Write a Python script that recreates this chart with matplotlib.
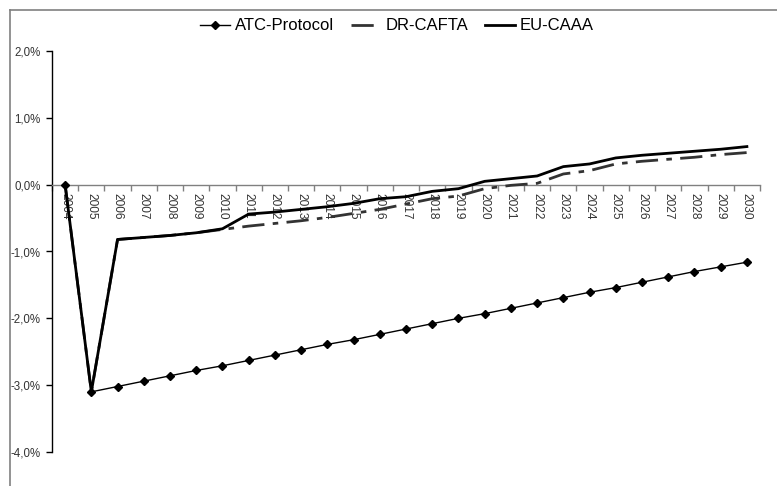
import matplotlib
matplotlib.use("Agg")
import matplotlib.pyplot as plt
from matplotlib.lines import Line2D
from matplotlib.ticker import FuncFormatter, FixedLocator
import numpy as np

plt.rcParams['font.family'] = ['Liberation Sans', 'DejaVu Sans']

years = [str(y) for y in range(2004, 2031)]

atc_protocol = [0.00, -3.10, -3.02, -2.94, -2.86, -2.78, -2.71, -2.63, -2.55, -2.47,
                -2.39, -2.32, -2.24, -2.16, -2.08, -2.00, -1.93, -1.85, -1.77, -1.69,
                -1.61, -1.54, -1.46, -1.38, -1.30, -1.23, -1.16]

dr_cafta = [0.00, -3.10, -0.82, -0.79, -0.76, -0.72, -0.67, -0.62, -0.58, -0.54,
            -0.49, -0.43, -0.37, -0.29, -0.21, -0.17, -0.06, -0.01, 0.02, 0.16,
            0.21, 0.31, 0.35, 0.38, 0.41, 0.45, 0.48]

eu_caaa = [0.00, -3.10, -0.82, -0.79, -0.76, -0.72, -0.66, -0.44, -0.41, -0.37,
           -0.33, -0.28, -0.21, -0.18, -0.10, -0.06, 0.05, 0.09, 0.13, 0.27,
           0.31, 0.40, 0.44, 0.47, 0.50, 0.53, 0.57]

ytick_vals = [2.0, 1.0, 0.0, -1.0, -2.0, -3.0, -4.0]

W, H = 777, 486
fig = plt.figure(figsize=(W / 100, H / 100), dpi=100)
ax = fig.add_axes([52 / W, (H - 452) / H, (760 - 52) / W, (452 - 51) / H])

x = np.arange(len(years))

ax.plot(x, dr_cafta, color='#333333', lw=2.0, dashes=(8, 3, 2, 3),
        label='DR-CAFTA', zorder=3, solid_capstyle='butt')
ax.plot(x, atc_protocol, color='black', lw=1.0, marker='D', markersize=3.8,
        label='ATC-Protocol', zorder=4)
ax.plot(x, eu_caaa, color='black', lw=2.0, label='EU-CAAA', zorder=5)

ax.set_xlim(-0.5, len(years) - 0.5)
ax.set_ylim(-4.0, 2.0)

# spines
for s in ['top', 'right']:
    ax.spines[s].set_visible(False)
ax.spines['bottom'].set_position(('data', 0))
ax.spines['bottom'].set_color('#808080')
ax.spines['bottom'].set_linewidth(1.0)
ax.spines['left'].set_color('black')
ax.spines['left'].set_linewidth(1.0)

# y ticks
ax.set_yticks(ytick_vals)
ax.yaxis.set_major_formatter(FuncFormatter(lambda v, p: f"{v:.1f}%".replace('.', ',')))
ax.tick_params(axis='y', direction='out', length=4, width=1, labelsize=8.3,
               colors='black', pad=4)
for lab in ax.get_yticklabels():
    lab.set_color('#333333')

# x ticks: labels at category centers, tick marks at boundaries
ax.set_xticks(x)
ax.set_xticklabels(years, rotation=-90, fontsize=8.6, color='#333333')
ax.tick_params(axis='x', which='major', length=0, pad=6)
ax.xaxis.set_minor_locator(FixedLocator(np.arange(-0.5, len(years), 1.0)))
ax.tick_params(axis='x', which='minor', direction='out', length=4, width=1,
               color='#808080')
for lab in ax.get_xticklabels():
    lab.set_va('top')
    lab.set_ha('center')

# legend
handles, labels = ax.get_legend_handles_labels()
order = [labels.index('ATC-Protocol'), labels.index('DR-CAFTA'), labels.index('EU-CAAA')]
leg = fig.legend([handles[i] for i in order], [labels[i] for i in order],
                 loc='center', bbox_to_anchor=(397 / W, 1 - 26 / H), ncol=3,
                 frameon=False, fontsize=12, handlelength=1.8, handletextpad=0.3,
                 columnspacing=1.0, borderpad=0)

# outer grey frame (partially cropped)
fig.add_artist(Line2D([10 / W, 1.0], [1 - 10 / H, 1 - 10 / H], color='#808080', lw=1.2,
                      transform=fig.transFigure))
fig.add_artist(Line2D([10 / W, 10 / W], [0.0, 1 - 10 / H], color='#808080', lw=1.2,
                      transform=fig.transFigure))

fig.savefig('out.png', dpi=100)
